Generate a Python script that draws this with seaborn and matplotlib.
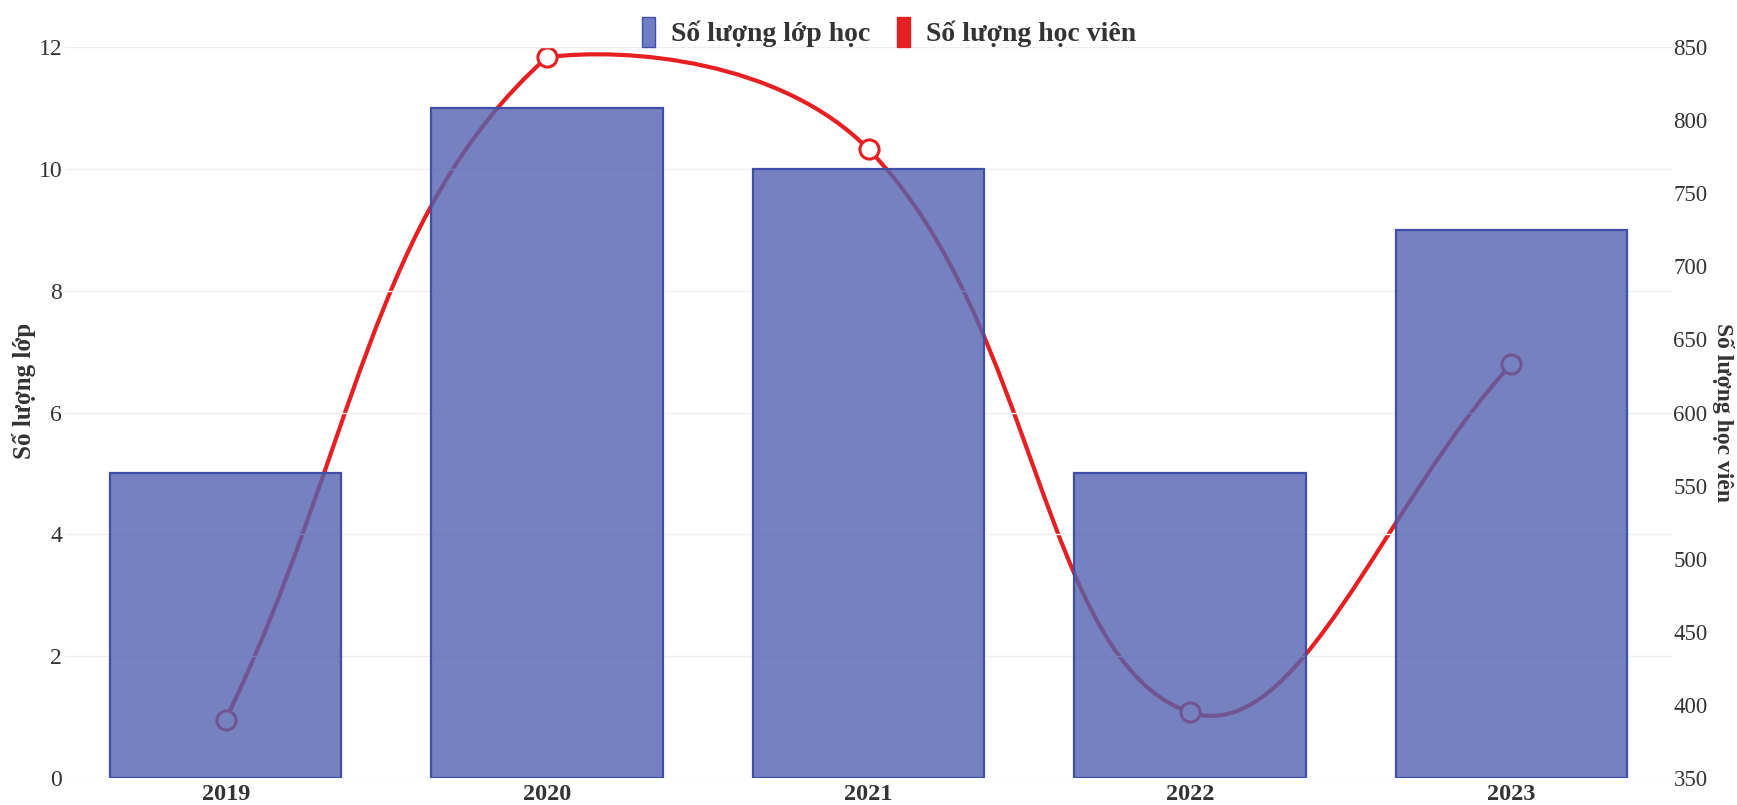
import numpy as np
import matplotlib
matplotlib.use("Agg")
import matplotlib.pyplot as plt
from matplotlib.path import Path
from matplotlib.patches import PathPatch, Patch
import seaborn as sns

years = ["2019", "2020", "2021", "2022", "2023"]
classes = [5, 11, 10, 5, 9]
students = [390, 843, 780, 395, 633]

left_ticks = [0, 2, 4, 6, 8, 10, 12]
right_ticks = [350, 400, 450, 500, 550, 600, 650, 700, 750, 800, 850]

bar_rgb = (84 / 255, 99 / 255, 176 / 255)
bar_alpha = 0.8
bar_edge = "#3f4ea6"
line_color = "#e51f22"
text_color = "#333333"


def chartjs_spline(ax, xs, ys, tension=0.4):
    # bezier control points the way chart.js builds them, in pixel space
    pts = ax.transData.transform(np.column_stack([xs, ys]))
    bb = ax.bbox
    n = len(pts)
    ctrl = []
    for i in range(n):
        cur = pts[i]
        prev = pts[i - 1] if i > 0 else cur
        nxt = pts[i + 1] if i < n - 1 else cur
        d01 = np.hypot(*(cur - prev))
        d12 = np.hypot(*(nxt - cur))
        s01 = d01 / (d01 + d12)
        s12 = d12 / (d01 + d12)
        cp_prev = cur - tension * s01 * (nxt - prev)
        cp_next = cur + tension * s12 * (nxt - prev)
        for cp in (cp_prev, cp_next):
            cp[0] = min(max(cp[0], bb.x0), bb.x1)
            cp[1] = min(max(cp[1], bb.y0), bb.y1)
        ctrl.append((cp_prev, cp_next))
    verts = [pts[0]]
    codes = [Path.MOVETO]
    for i in range(n - 1):
        verts += [ctrl[i][1], ctrl[i + 1][0], pts[i + 1]]
        codes += [Path.CURVE4] * 3
    verts = ax.transData.inverted().transform(np.array(verts))
    return Path(verts, codes)


sns.set_style("white")
plt.rcParams["font.family"] = ["Liberation Serif", "DejaVu Serif"]

fig, ax = plt.subplots(figsize=(17.37, 8.05), dpi=100)
fig.subplots_adjust(left=65 / 1737, right=1672 / 1737, bottom=1 - 778 / 805, top=1 - 47 / 805)
ax2 = ax.twinx()
# line sits behind the translucent bars
ax2.set_zorder(ax.get_zorder() - 1)
ax.patch.set_visible(False)

sns.barplot(x=years, y=classes, ax=ax, color=bar_rgb, saturation=1, width=0.72,
            edgecolor=bar_edge, linewidth=1.6, zorder=3)
for p in ax.patches:
    p.set_facecolor((*bar_rgb, bar_alpha))

ax.set_xlim(-0.5, len(years) - 0.5)
ax.set_ylim(0, 12)
ax.set_yticks(left_ticks)
ax2.set_ylim(350, 850)
ax2.set_yticks(right_ticks)

xs = np.arange(len(years))
path = chartjs_spline(ax2, xs, students)
ax2.add_patch(PathPatch(path, facecolor="none", edgecolor=line_color, lw=3.0,
                        capstyle="round", joinstyle="round"))
sns.scatterplot(x=xs, y=students, ax=ax2, s=190, color="white",
                edgecolor=line_color, linewidth=2.2, zorder=4, legend=False)

for a in (ax, ax2):
    for s in a.spines.values():
        s.set_visible(False)
    a.tick_params(length=0, colors=text_color)

ax.grid(axis="y", color="#eeeeee", lw=1)
ax.set_axisbelow(True)
ax.tick_params(axis="y", labelsize=17, pad=2)
ax.tick_params(axis="x", labelsize=17.5, pad=4)
for lbl in ax.get_xticklabels():
    lbl.set_fontweight("bold")
ax2.tick_params(axis="y", labelsize=16.5, pad=1)

ax.set_xlabel("")
ax.set_ylabel("Số lượng lớp", fontsize=18, fontweight="bold", color=text_color)
ax.yaxis.set_label_coords(-0.018, 0.53)
ax2.set_ylabel("Số lượng học viên", fontsize=17, fontweight="bold", color=text_color,
               rotation=-90, va="center")
ax2.yaxis.set_label_coords(1.0315, 0.5)

handles = [Patch(facecolor="#6f7dc6", edgecolor=bar_edge, lw=1),
           Patch(facecolor=line_color, edgecolor=line_color, lw=1)]
leg = fig.legend(handles, ["Số lượng lớp học", "Số lượng học viên"], loc="center",
                 bbox_to_anchor=(0.512, 0.96), ncol=2, frameon=False,
                 handlelength=0.45, handleheight=1.3, handletextpad=0.6,
                 columnspacing=0.95, prop={"size": 20, "weight": "bold"})
for t in leg.get_texts():
    t.set_color(text_color)

fig.savefig("out.png", dpi=100)
